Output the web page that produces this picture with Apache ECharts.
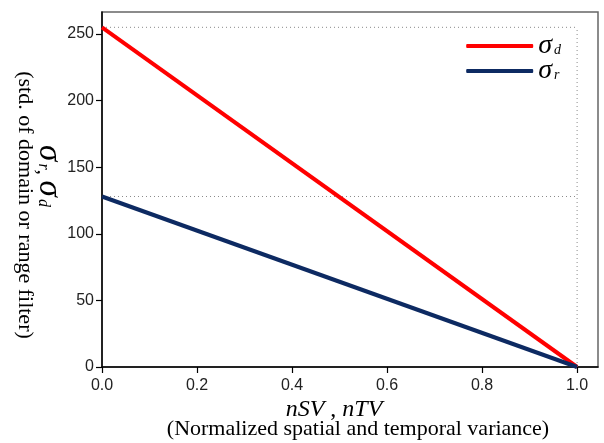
<!DOCTYPE html>
<html>
<head>
<meta charset="utf-8">
<script src="https://cdn.jsdelivr.net/npm/echarts@6/dist/echarts.min.js"></script>
<style>html,body{margin:0;padding:0;background:#fff}#c{width:604px;height:443px}</style>
</head>
<body>
<div id="c"></div>
<script>
const xTicks = [0, 0.2, 0.4, 0.6, 0.8, 1.0];
const yTicks = [0, 50, 100, 150, 200, 250];
const nVar = [0, 1];
const sigmaD = [255, 0];
const sigmaR = [128, 0];
const refLevels = [255, 128];
const refX = 1;
const seriesNames = ['sigma_d', 'sigma_r'];
const seriesSubs = ['d', 'r'];

const pairs = (xs, ys) => xs.map((x, i) => [x, ys[i]]);
const serif = 'Liberation Serif';
const sans = 'Liberation Sans';

const chart = echarts.init(document.getElementById('c'), null, {renderer: 'canvas'});

const dotted = {color: '#8a8a8a', width: 1, type: [1, 3]};
const refSeries = refLevels.map(l => ({
  type: 'line', silent: true, symbol: 'none', z: 1,
  data: [[0, l], [refX, l]], lineStyle: dotted
}));
refSeries.push({
  type: 'line', silent: true, symbol: 'none', z: 1,
  data: [[refX, 0], [refX, refLevels[0]]], lineStyle: dotted
});

const legendRich = {
  s: {fontFamily: serif, fontStyle: 'italic', fontSize: 28, lineHeight: 24, color: '#000'},
  sub: {fontFamily: serif, fontStyle: 'italic', fontSize: 14, lineHeight: 14, color: '#000', padding: [9, 0, 0, 2]}
};
const axisRich = {
  s: {fontFamily: serif, fontStyle: 'italic', fontSize: 33, lineHeight: 30, color: '#000'},
  sub: {fontFamily: serif, fontStyle: 'italic', fontSize: 16, lineHeight: 16, color: '#000', padding: [12, 0, 0, 2]},
  c: {fontFamily: serif, fontSize: 22, lineHeight: 22, color: '#000', padding: [10, 0, 0, 0]}
};

chart.setOption({
  animation: false,
  grid: {left: 102, right: 6, top: 12, bottom: 76, show: true, borderColor: '#666', borderWidth: 1.5},
  xAxis: {
    type: 'value', min: 0, max: 1.044,
    axisLine: {onZero: false, lineStyle: {color: '#000', width: 1.5}},
    axisTick: {show: true, length: 6, customValues: xTicks, lineStyle: {color: '#000', width: 1.2}},
    axisLabel: {customValues: xTicks, formatter: v => v.toFixed(1), fontFamily: sans, fontSize: 16, color: '#222', margin: 11},
    splitLine: {show: false}
  },
  yAxis: {
    type: 'value', min: 0, max: 266.5,
    axisLine: {show: true, onZero: false, lineStyle: {color: '#000', width: 1.5}},
    axisTick: {show: true, length: 6, customValues: yTicks, lineStyle: {color: '#000', width: 1.2}},
    axisLabel: {customValues: yTicks, fontFamily: sans, fontSize: 16, color: '#222', margin: 8},
    splitLine: {show: false}
  },
  legend: {
    data: seriesNames, orient: 'vertical', right: 38, top: 27, itemGap: -3,
    icon: 'roundRect', itemWidth: 67, itemHeight: 4,
    formatter: n => '{s|σ}{sub|' + seriesSubs[seriesNames.indexOf(n)] + '}',
    textStyle: {rich: legendRich}
  },
  series: [
    {name: seriesNames[0], type: 'line', symbol: 'none', z: 3, data: pairs(nVar, sigmaD), lineStyle: {color: '#ff0000', width: 4}, itemStyle: {color: '#ff0000'}},
    {name: seriesNames[1], type: 'line', symbol: 'none', z: 3, data: pairs(nVar, sigmaR), lineStyle: {color: '#0d2a62', width: 4}, itemStyle: {color: '#0d2a62'}}
  ].concat(refSeries),
  graphic: [
    {type: 'text', x: 334, y: 410, style: {
      text: '{i|nSV}{r| , }{i|nTV}', align: 'center', verticalAlign: 'middle',
      rich: {i: {fontFamily: serif, fontStyle: 'italic', fontSize: 24, color: '#000'}, r: {fontFamily: serif, fontSize: 24, color: '#000'}}
    }},
    {type: 'text', x: 358, y: 429, style: {
      text: '(Normalized spatial and temporal variance)', align: 'center', verticalAlign: 'middle',
      fontFamily: serif, fontSize: 22, fill: '#000'
    }},
    {type: 'text', x: 25, y: 205, rotation: -Math.PI / 2, style: {
      text: '(std. of domain or range filter)', align: 'center', verticalAlign: 'middle',
      fontFamily: serif, fontSize: 22, fill: '#000'
    }},
    {type: 'text', x: 49, y: 176, rotation: -Math.PI / 2, style: {
      text: '{s|σ}{sub|r}{c|, }{s|σ}{sub|d}', align: 'center', verticalAlign: 'middle',
      rich: axisRich
    }}
  ]
});
</script>
</body>
</html>
